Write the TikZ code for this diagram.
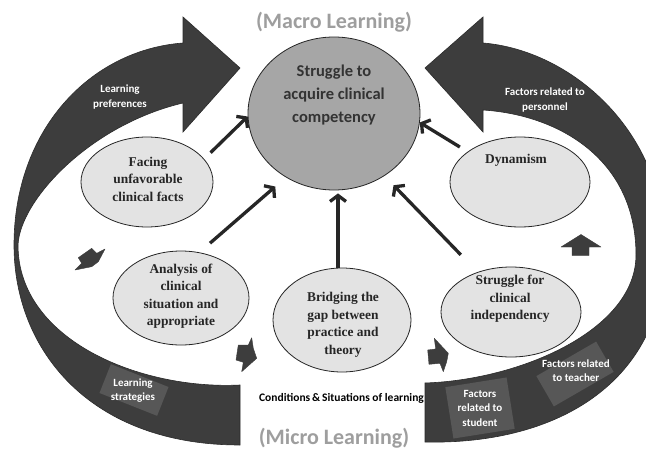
\documentclass[tikz,border=0pt]{standalone}
\usepackage{fontspec}
\setmainfont{Liberation Serif}
\newfontfamily\cali{Carlito}
\usetikzlibrary{arrows.meta,shapes.geometric}
\definecolor{bandc}{HTML}{3D3D3D}
\definecolor{boxc}{HTML}{575757}
\definecolor{ellc}{HTML}{E3E3E3}
\definecolor{circc}{HTML}{A6A6A6}
\definecolor{titlec}{HTML}{9E9E9E}
\begin{document}
\begin{tikzpicture}[x=1pt,y=-1pt,
  band/.style={fill=bandc, draw=bandc!70!black, line width=0.6pt},
  lbox/.style={fill=boxc, draw=none, inner sep=0pt},
  ell/.style={ellipse, draw=black!85, line width=0.8pt, fill=ellc, inner sep=0pt},
  etxt/.style={font=\bfseries\fontsize{13.4}{17.5}\selectfont, align=center, text=black!85},
  ctxt/.style={font=\cali\bfseries\fontsize{16.5}{23}\selectfont, align=center, text=black!80},
  wtxt/.style={font=\cali\bfseries\fontsize{11}{14.5}\selectfont, align=center, text=white},
  ttl/.style={font=\cali\bfseries\fontsize{22}{26}\selectfont, text=titlec},
  conn/.style={line width=3.3pt, draw=black!85, -{Straight Barb[length=6pt,width=16pt]}},
  sarrow/.style={fill=bandc, draw=bandc, line width=0.4pt, line join=round},
]
\useasboundingbox (0,0) rectangle (646,450);
\fill[white] (0,0) rectangle (646,450);
\begin{scope}
\clip (0,0) rectangle (646,450);
% left big arrow
\draw[band] (240,68) -- (183,17) -- (183,43)
  .. controls (90,50) and (14,130) .. (14,245)
  .. controls (14,350) and (90,445) .. (240,445) -- (240,385)
  .. controls (140,390) and (18,340) .. (18,245)
  .. controls (20,200) and (90,125) .. (183,103) -- (183,132) -- cycle;
% right big arrow
\draw[band] (425,68) -- (483,17) -- (483,43)
  .. controls (570,50) and (665,130) .. (665,250)
  .. controls (665,380) and (560,445) .. (425,442) -- (425,383)
  .. controls (520,380) and (636,330) .. (636,255)
  .. controls (636,160) and (560,115) .. (483,110) -- (483,132) -- cycle;
\end{scope}
% label boxes on the bands
\node[lbox, minimum width=62pt, minimum height=31pt, rotate=-21.6] (b1) at (134,390) {};
\node[wtxt] (b1t) at (133,390.5) {Learning\\strategies};
\node[lbox, minimum width=62pt, minimum height=52pt, rotate=9] (b2) at (480,408) {};
\node[wtxt] (b2t) at (480,408) {Factors\\related to\\student};
\node[lbox, minimum width=69pt, minimum height=35pt, rotate=30] (b3) at (575,374) {};
\node[wtxt] (b3t) at (576,370.5) {Factors related\\to teacher};
\node[wtxt] (lp) at (120,97) {Learning\\preferences};
\node[wtxt] (fp) at (545,100) {Factors related to\\personnel};
% small block arrows
\draw[sarrow] (78.3,257.7) -- (91.7,248.3) -- (96.7,253.3) -- (105,249) -- (98.3,261.7) -- (91.7,266.7) -- (75,270) -- (81.7,263.3) -- cycle;
\draw[sarrow] (251.7,337.7) -- (253.3,348.3) -- (256.7,358.3) -- (241.7,371.7) -- (243.3,362.3) -- (236,360) -- (238.3,345) -- (248.3,345) -- cycle;
\draw[sarrow] (434.3,338.3) -- (448.3,353.3) -- (446.7,361.7) -- (443.3,371.7) -- (440,363.3) -- (429,364.3) -- (427.7,350) -- (435.7,349) -- cycle;
\draw[sarrow] (581,234.5) -- (601,247) -- (589,247) -- (589,255.5) -- (572,255.5) -- (572,247) -- (561,247) -- cycle;
% central circle
\node[ellipse, draw=black!85, line width=0.8pt, fill=circc, inner sep=0pt, minimum width=172pt, minimum height=153pt] (core) at (334,113.5) {};
\node[ctxt] (coret) at (334,95) {Struggle to\\acquire clinical\\competency};
% ellipses
\node[ell, minimum width=132pt, minimum height=90pt] (e1) at (147,182) {};
\node[etxt] (e1t) at (148,179) {Facing\\unfavorable\\clinical facts};
\node[ell, minimum width=140pt, minimum height=90pt] (e2) at (520,182) {};
\node[etxt] (e2t) at (516,160) {Dynamism};
\node[ell, minimum width=136pt, minimum height=94pt] (e3) at (181,298) {};
\node[etxt] (e3t) at (181,296) {Analysis of\\clinical\\situation and\\appropriate};
\node[ell, minimum width=138pt, minimum height=104pt] (e4) at (342,320) {};
\node[etxt] (e4t) at (343,325) {Bridging the\\gap between\\practice and\\theory};
\node[ell, minimum width=140pt, minimum height=90pt] (e5) at (511,312) {};
\node[etxt] (e5t) at (510,299) {Struggle for\\clinical\\independency};
% connectors
\draw[conn, shorten <=9pt] (e1.22) -- (core.182);
\draw[conn, shorten <=14pt, shorten >=14pt] (e3.68) -- (core.233);
\draw[conn, shorten >=3pt] ([xshift=-4pt]e4.north) -- ([xshift=-4pt]e4.north |- core.south);
\draw[conn, shorten <=24pt, shorten >=13pt] (e5.130) -- (core.309);
\draw[conn, shorten <=9pt] (e2.150) -- (core.354);
% titles
\node[ttl] (macro) at (334,22) {(Macro Learning)};
\node[ttl] (micro) at (334,438) {(Micro Learning)};
\node[font=\cali\bfseries\fontsize{11.5}{13}\selectfont] (cond) at (341.5,398) {Conditions\,\&\,Situations of learning};
\end{tikzpicture}
\end{document}
